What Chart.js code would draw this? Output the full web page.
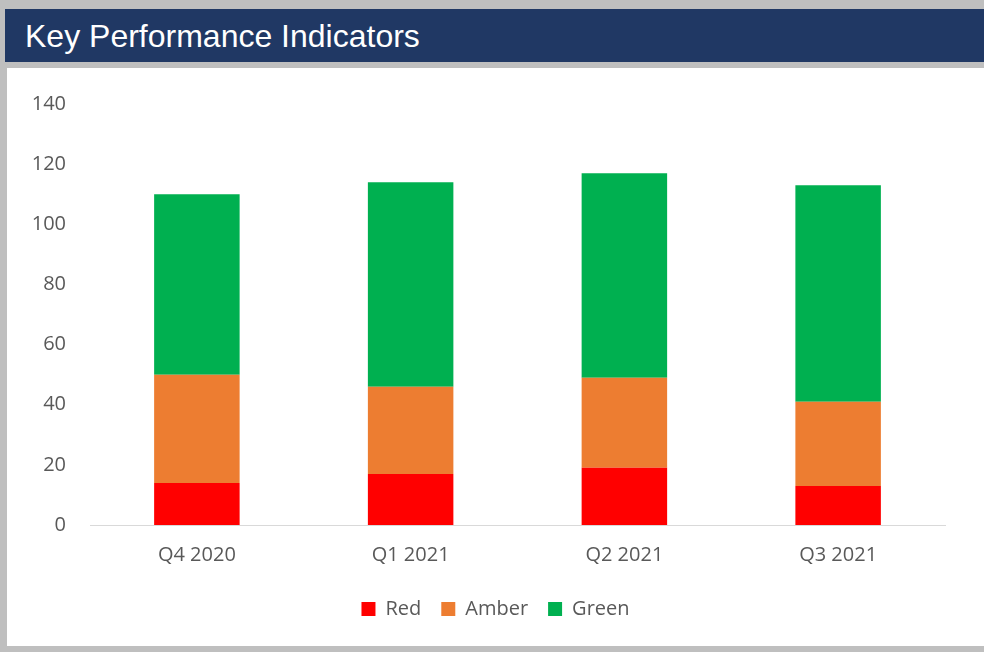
<!DOCTYPE html>
<html>
<head>
<meta charset="utf-8">
<script src="https://cdn.jsdelivr.net/npm/chart.js@4"></script>
<style>
  html, body { margin: 0; padding: 0; }
  body { width: 984px; height: 652px; background: #bfbfbf; position: relative; overflow: hidden; }
  #header {
    position: absolute; left: 5px; top: 9px; width: 979px; height: 53px;
    background: #203864; color: #fff;
    font-family: "Liberation Sans", Arial, sans-serif; font-size: 32px;
    line-height: 55px; padding-left: 20px; box-sizing: border-box;
  }
  #panel { position: absolute; left: 7px; top: 68px; width: 977px; height: 578px; background: #fff; }
  #kpiChart { display: block; }
</style>
</head>
<body>
<div id="header">Key Performance Indicators</div>
<div id="panel"><canvas id="kpiChart" width="977" height="578"></canvas></div>
<script>
const quarters = ['Q4 2020', 'Q1 2021', 'Q2 2021', 'Q3 2021'];
const redValues = [14, 17, 19, 13];
const amberValues = [36, 29, 30, 28];
const greenValues = [60, 68, 68, 72];
const yTicks = [0, 20, 40, 60, 80, 100, 120, 140];

const textFont = { family: '"Open Sans", sans-serif', size: 20 };

new Chart(document.getElementById('kpiChart'), {
  type: 'bar',
  data: {
    labels: quarters,
    datasets: [
      { label: 'Red', data: redValues, backgroundColor: '#ff0000' },
      { label: 'Amber', data: amberValues, backgroundColor: '#ed7d31' },
      { label: 'Green', data: greenValues, backgroundColor: '#00b050' }
    ]
  },
  options: {
    responsive: false,
    animation: false,
    categoryPercentage: 1,
    barPercentage: 0.4,
    layout: { padding: { top: 34, right: 0, bottom: 17, left: 0 } },
    plugins: {
      tooltip: { enabled: false },
      legend: {
        position: 'bottom',
        labels: {
          color: '#595959',
          font: textFont,
          boxWidth: 14,
          boxHeight: 14,
          padding: 20
        }
      }
    },
    scales: {
      x: {
        stacked: true,
        grid: { display: false, drawTicks: false },
        border: { color: '#d9d9d9', width: 1 },
        ticks: { color: '#595959', font: textFont, padding: 18 },
        afterFit: function(scale) { scale.height = 54; }
      },
      y: {
        stacked: true,
        min: 0,
        max: 140,
        afterBuildTicks: function(scale) { scale.ticks = yTicks.map(v => ({ value: v })); },
        grid: { display: false, drawTicks: false },
        border: { display: false },
        ticks: { color: '#595959', font: textFont, padding: 24 },
        afterFit: function(scale) { scale.width = 83; }
      },
      // empty right-hand axis keeps the plot off the right edge without shifting the legend
      spacer: {
        position: 'right',
        grid: { display: false, drawTicks: false },
        border: { display: false },
        ticks: { display: false },
        afterFit: function(scale) { scale.width = 39; }
      }
    }
  }
});
</script>
</body>
</html>
